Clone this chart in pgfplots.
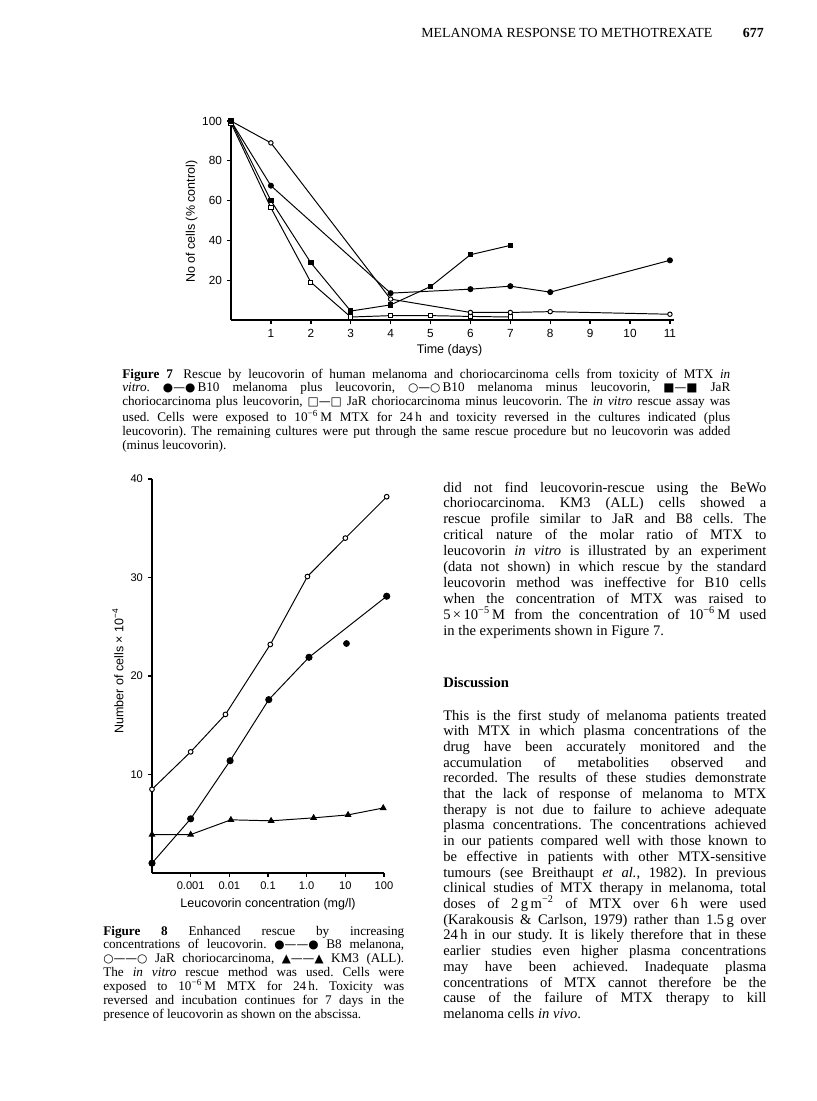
\documentclass[border=0pt]{standalone}
\usepackage{pgfplots}
\pgfplotsset{compat=1.18}
\usepackage{fontspec}
\setmainfont{Liberation Serif}
\newfontfamily\chartfont{Liberation Sans}
\newfontfamily\symfont{DejaVu Sans}
\frenchspacing

\newlength\colw
\newcommand\jl[1]{\hbox to \colw{#1}}
\newcommand\lastl[1]{\hbox to \colw{#1\hfil}}
\newcommand\sy[1]{{\symfont\fontsize{8.5}{8.5}\selectfont #1}}
\newcommand\expo[1]{\textsuperscript{#1}}

\pgfplotsset{
  scan/.style={
    scale only axis, clip=false,
    axis lines=left, axis line style={-, line width=1.3pt},
    tick align=outside, major tick length=3pt,
    tick style={line width=1pt, black},
    /pgf/number format/assume math mode=true,
    label style={font=\chartfont\fontsize{9}{11}\selectfont},
  },
}

\begin{document}
\begin{tikzpicture}
\begin{scope}[x=0.72pt,y=-0.72pt]
\path[use as bounding box] (0,0) rectangle (816,1101);
\coordinate (f7) at (231,320);
\coordinate (f8) at (152,873);

% running head
\node[anchor=base west, inner sep=0pt] at (421,37) {\fontsize{10}{12}\selectfont MELANOMA RESPONSE TO METHOTREXATE};
\node[anchor=base east, inner sep=0pt] at (764,37) {\fontsize{10}{12}\selectfont\textbf{677}};

% caption figure 7
\node[anchor=base west, inner sep=0pt] at (122,378) {\setlength\colw{437.8pt}\fontsize{9.5}{9.97}\selectfont\vtop{%
\jl{\textbf{Figure 7}\hspace{0.8em}Rescue by leucovorin of human melanoma and choriocarcinoma cells from toxicity of MTX \textit{in}}
\jl{\textit{vitro}. \sy{●—●}\,B10 melanoma plus leucovorin, \sy{○—○}\,B10 melanoma minus leucovorin, \sy{■—■} JaR}
\jl{choriocarcinoma plus leucovorin, \sy{□—□} JaR choriocarcinoma minus leucovorin. The \textit{in vitro} rescue assay was}
\jl{used. Cells were exposed to 10\expo{−6}\,M MTX for 24\,h and toxicity reversed in the cultures indicated (plus}
\jl{leucovorin). The remaining cultures were put through the same rescue procedure but no leucovorin was added}
\lastl{(minus leucovorin).}}};

% caption figure 8
\node[anchor=base west, inner sep=0pt] at (103,935) {\setlength\colw{216.7pt}\fontsize{9.5}{9.97}\selectfont\vtop{%
\jl{\textbf{Figure 8} Enhanced rescue by increasing}
\jl{concentrations of leucovorin. \sy{●——●} B8 melanona,}
\jl{\sy{○——○} JaR choriocarcinoma, \sy{▲——▲} KM3 (ALL).}
\jl{The \textit{in vitro} rescue method was used. Cells were}
\jl{exposed to 10\expo{−6}\,M MTX for 24\,h. Toxicity was}
\jl{reversed and incubation continues for 7 days in the}
\lastl{presence of leucovorin as shown on the abscissa.}}};

% right column
\node[anchor=base west, inner sep=0pt] at (443,492) {\setlength\colw{232.6pt}\fontsize{10.5}{11.45}\selectfont\vtop{%
\jl{did not find leucovorin-rescue using the BeWo}
\jl{choriocarcinoma. KM3 (ALL) cells showed a}
\jl{rescue profile similar to JaR and B8 cells. The}
\jl{critical nature of the molar ratio of MTX to}
\jl{leucovorin \textit{in vitro} is illustrated by an experiment}
\jl{(data not shown) in which rescue by the standard}
\jl{leucovorin method was ineffective for B10 cells}
\jl{when the concentration of MTX was raised to}
\jl{5\,×\,10\expo{−5}\,M from the concentration of 10\expo{−6}\,M used}
\lastl{in the experiments shown in Figure 7.}}};

\node[anchor=base west, inner sep=0pt] at (443,687.5) {\fontsize{10.5}{12}\selectfont\textbf{Discussion}};

\node[anchor=base west, inner sep=0pt] at (443,720) {\setlength\colw{232.6pt}\fontsize{10.5}{11.31}\selectfont\vtop{%
\jl{This is the first study of melanoma patients treated}
\jl{with MTX in which plasma concentrations of the}
\jl{drug have been accurately monitored and the}
\jl{accumulation of metabolities observed and}
\jl{recorded. The results of these studies demonstrate}
\jl{that the lack of response of melanoma to MTX}
\jl{therapy is not due to failure to achieve adequate}
\jl{plasma concentrations. The concentrations achieved}
\jl{in our patients compared well with those known to}
\jl{be effective in patients with other MTX-sensitive}
\jl{tumours (see Breithaupt \textit{et al.}, 1982). In previous}
\jl{clinical studies of MTX therapy in melanoma, total}
\jl{doses of 2\,g\,m\expo{−2} of MTX over 6\,h were used}
\jl{(Karakousis \& Carlson, 1979) rather than 1.5\,g over}
\jl{24\,h in our study. It is likely therefore that in these}
\jl{earlier studies even higher plasma concentrations}
\jl{may have been achieved. Inadequate plasma}
\jl{concentrations of MTX cannot therefore be the}
\jl{cause of the failure of MTX therapy to kill}
\lastl{melanoma cells \textit{in vivo}.}}};
\end{scope}

% Figure 7
\begin{axis}[scan,
  at={(f7)}, anchor=south west,
  width=318.9pt, height=143.28pt,
  xmin=0, xmax=11.1, ymin=0, ymax=100,
  xtick={1,...,11}, ytick={20,40,60,80,100},
  ticklabel style={font=\chartfont\fontsize{8.5}{10}\selectfont},
  xlabel={Time (days)}, ylabel={No of cells (\% control)},
  xlabel style={at={(axis description cs:0.4935,-0.151)}, anchor=center},
  ylabel style={at={(axis description cs:-0.0886,0.494)}, anchor=center},
]
\addplot[line width=0.7pt, mark=square*, mark size=1.5pt, mark options={fill=white}]
  coordinates {(0,99) (1,56.4) (2,19) (3,1.5) (4,2.2) (5,2.2) (6,1.8) (7,1.5)};
\addplot[line width=0.7pt, mark=*, mark size=1.6pt, mark options={fill=white}]
  coordinates {(0,100) (1,89) (4,10.5) (6,3.8) (7,3.8) (8,4.2) (11,2.9)};
\addplot[line width=0.7pt, mark=square*, mark size=1.6pt, mark options={fill=black}]
  coordinates {(0,100) (1,60) (2,28.8) (3,4.5) (4,7.6) (5,16.8) (6,32.8) (7,37.5)};
\addplot[line width=0.7pt, mark=*, mark size=1.8pt, mark options={fill=black}]
  coordinates {(0,100) (1,67.5) (4,13.5) (6,15.5) (7,17) (8,14) (11,30)};
\end{axis}

% Figure 8
\begin{axis}[scan,
  at={(f8)}, anchor=south west,
  width=167.04pt, height=283.68pt,
  xmin=-4, xmax=2, ymin=0, ymax=40,
  xtick={-3,...,2}, xticklabels={0.001,0.01,0.1,1.0,10,100},
  ytick={10,20,30,40},
  ticklabel style={font=\chartfont\fontsize{8}{10}\selectfont},
  xlabel={Leucovorin concentration (mg/l)},
  ylabel={Number of cells × 10\textsuperscript{−4}},
  xlabel style={at={(axis description cs:0.5,-0.0787)}, anchor=center},
  ylabel style={at={(axis description cs:-0.1466,0.513)}, anchor=center},
]
\addplot[line width=0.7pt, mark=triangle*, mark size=2.2pt, mark options={fill=black}]
  coordinates {(-4,3.9) (-3,3.9) (-1.96,5.4) (-0.92,5.3) (0.18,5.6) (1.07,5.9) (1.98,6.6)};
\addplot[line width=0.7pt, mark=*, mark size=1.7pt, mark options={fill=white}]
  coordinates {(-4,8.5) (-3,12.3) (-2.1,16.1) (-0.94,23.2) (0.02,30.1) (1.0,34.0) (2.07,38.2)};
\addplot[line width=0.7pt, mark=*, mark size=2.2pt, mark options={fill=black}]
  coordinates {(-4,1.0) (-3,5.5) (-1.98,11.4) (-0.98,17.6) (0.06,21.9) (2.07,28.1)};
\addplot[only marks, mark=*, mark size=2.2pt, mark options={fill=black}]
  coordinates {(1.03,23.3)};
\end{axis}
\end{tikzpicture}
\end{document}
